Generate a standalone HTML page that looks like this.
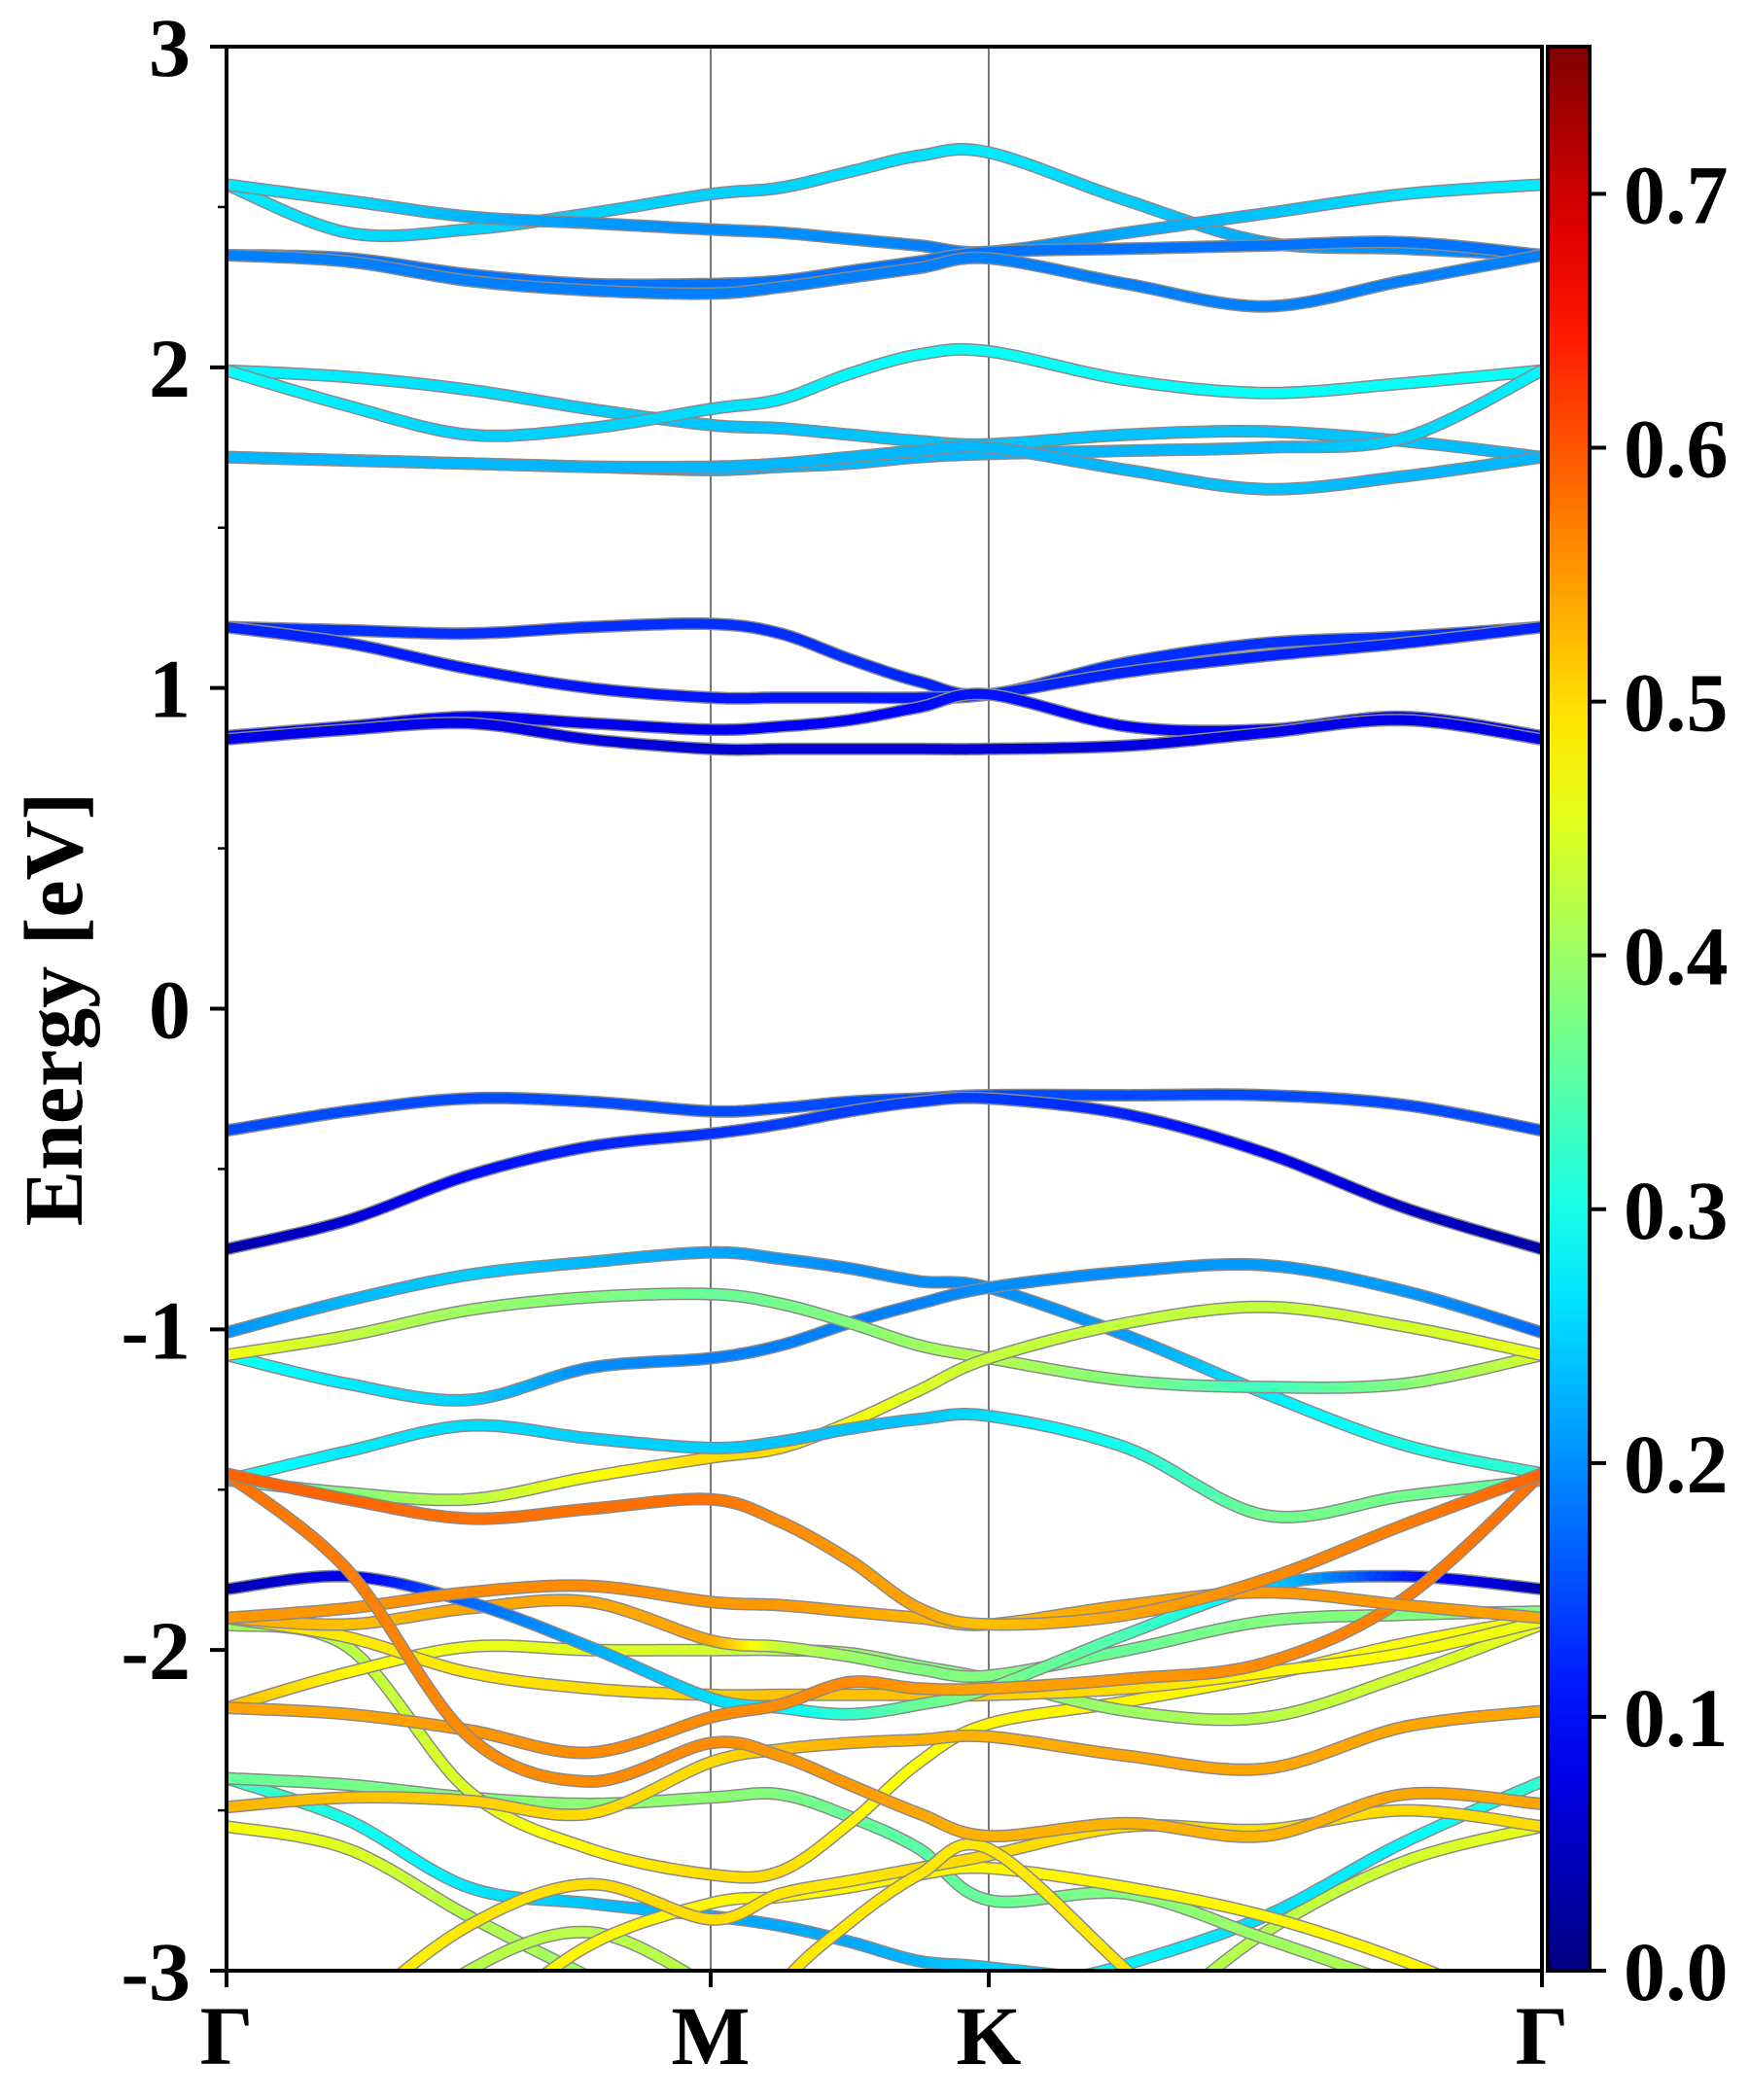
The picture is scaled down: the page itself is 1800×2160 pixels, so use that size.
<!DOCTYPE html>
<html><head><meta charset="utf-8">
<style>
html,body{margin:0;padding:0;background:#fff;width:1800px;height:2160px;overflow:hidden;}
svg{display:block;}
text{font-family:"Liberation Serif",serif;font-weight:bold;fill:#000;}
</style></head>
<body>
<svg id="chart" width="1800" height="2160" viewBox="0 0 1800 2160" xmlns="http://www.w3.org/2000/svg" font-family="Liberation Serif, serif">
<defs>
<clipPath id="plotclip"><rect x="233" y="48" width="1353" height="1979"/></clipPath>
<linearGradient id="jetgrad" x1="0" y1="1" x2="0" y2="0"></linearGradient>
</defs>
<g id="bands" clip-path="url(#plotclip)"></g>
<g id="axes"></g>
<text transform="translate(84,1038) rotate(-90)" text-anchor="middle" font-size="86">Energy [eV]</text>
</svg>
<script>
// ---- data ----
const kPoints = [0,0.25,0.5,0.75,1,1.25,1.5,1.75,2,2.25,2.5,2.75,3];
const kLabels = ["Γ","M","K","Γ"];
const kLabelPos = [0,1,2,3];
const yTicks = [3,2,1,0,-1,-2,-3];
const yTickLabels = ["3","2","1","0","-1","-2","-3"];
const cbTicks = [0.0,0.1,0.2,0.3,0.4,0.5,0.6,0.7];
const cbTickLabels = ["0.0","0.1","0.2","0.3","0.4","0.5","0.6","0.7"];
const vmax = 0.758;

const bandA_E = [2.57,2.42,2.43,2.48,2.54,2.56,2.61,2.66,2.67,2.52,2.39,2.37,2.35];
const bandA_W = [0.27,0.26,0.25,0.25,0.25,0.25,0.26,0.26,0.27,0.25,0.22,0.2,0.19];
const bandB_E = [2.57,2.52,2.47,2.45,2.43,2.42,2.40,2.38,2.36,2.42,2.48,2.54,2.57];
const bandB_W = [0.27,0.26,0.23,0.21,0.2,0.2,0.2,0.19,0.19,0.22,0.24,0.26,0.27];
const bandC_E = [2.35,2.34,2.29,2.26,2.26,2.27,2.30,2.33,2.36,2.37,2.38,2.39,2.35];
const bandC_W = [0.18,0.18,0.18,0.18,0.18,0.18,0.18,0.18,0.18,0.18,0.18,0.18,0.18];
const bandD_E = [2.35,2.33,2.27,2.24,2.23,2.25,2.28,2.31,2.34,2.26,2.19,2.27,2.35];
const bandD_W = [0.19,0.19,0.19,0.19,0.19,0.19,0.19,0.19,0.19,0.19,0.19,0.19,0.19];
const bandE_E = [1.99,1.97,1.93,1.87,1.82,1.81,1.79,1.77,1.76,1.79,1.80,1.77,1.72];
const bandE_W = [0.28,0.27,0.26,0.25,0.24,0.24,0.24,0.24,0.24,0.24,0.24,0.24,0.23];
const bandF_E = [1.99,1.88,1.79,1.81,1.87,1.90,1.98,2.04,2.05,1.96,1.92,1.95,1.99];
const bandF_W = [0.29,0.27,0.25,0.25,0.26,0.27,0.28,0.29,0.29,0.29,0.29,0.29,0.29];
const bandG_E = [1.72,1.71,1.70,1.69,1.68,1.69,1.70,1.72,1.73,1.74,1.75,1.78,1.99];
const bandG_W = [0.23,0.23,0.23,0.23,0.23,0.23,0.23,0.23,0.23,0.23,0.23,0.25,0.28];
const bandH_E = [1.72,1.71,1.70,1.69,1.69,1.70,1.72,1.74,1.75,1.68,1.62,1.66,1.72];
const bandH_W = [0.23,0.23,0.23,0.23,0.23,0.23,0.23,0.23,0.23,0.23,0.24,0.23,0.23];
const bandI_E = [1.19,1.18,1.17,1.19,1.20,1.17,1.09,1.02,0.98,1.08,1.14,1.16,1.19];
const bandI_W = [0.13,0.13,0.13,0.13,0.13,0.13,0.13,0.12,0.12,0.13,0.13,0.13,0.13];
const bandJ_E = [1.19,1.14,1.06,1.00,0.97,0.97,0.97,0.97,0.98,1.05,1.10,1.14,1.19];
const bandJ_W = [0.12,0.12,0.11,0.11,0.11,0.11,0.11,0.11,0.12,0.12,0.12,0.12,0.12];
const bandK_E = [0.85,0.88,0.91,0.89,0.87,0.88,0.90,0.94,0.98,0.88,0.87,0.91,0.85];
const bandK_W = [0.09,0.09,0.09,0.08,0.08,0.09,0.09,0.1,0.11,0.09,0.09,0.09,0.09];
const bandL_E = [0.84,0.87,0.89,0.84,0.81,0.81,0.81,0.81,0.81,0.82,0.86,0.90,0.84];
const bandL_W = [0.08,0.08,0.08,0.07,0.06,0.06,0.06,0.06,0.06,0.07,0.08,0.08,0.08];
const bandV1_E = [-0.38,-0.32,-0.28,-0.29,-0.32,-0.31,-0.29,-0.28,-0.27,-0.27,-0.27,-0.30,-0.38];
const bandV1_W = [0.15,0.15,0.15,0.15,0.15,0.15,0.15,0.15,0.15,0.15,0.15,0.15,0.15];
const bandV2_E = [-0.75,-0.66,-0.52,-0.43,-0.39,-0.36,-0.32,-0.29,-0.28,-0.33,-0.45,-0.62,-0.75];
const bandV2_W = [0.03,0.06,0.1,0.12,0.13,0.14,0.14,0.14,0.14,0.12,0.09,0.05,0.03];
const bandV3_E = [-1.01,-0.91,-0.83,-0.79,-0.76,-0.78,-0.81,-0.85,-0.87,-1.02,-1.20,-1.36,-1.45];
const bandV3_W = [0.2,0.23,0.25,0.23,0.22,0.21,0.2,0.2,0.2,0.21,0.27,0.3,0.32];
const bandP_E = [-1.08,-1.17,-1.22,-1.12,-1.09,-1.05,-0.98,-0.92,-0.87,-0.82,-0.80,-0.88,-1.01];
const bandP_W = [0.3,0.27,0.25,0.2,0.19,0.19,0.19,0.19,0.2,0.2,0.21,0.21,0.17];
const bandQ_E = [-1.08,-1.02,-0.94,-0.90,-0.89,-0.92,-0.98,-1.05,-1.09,-1.16,-1.18,-1.17,-1.08];
const bandQ_W = [0.47,0.43,0.4,0.38,0.36,0.37,0.38,0.4,0.42,0.38,0.33,0.38,0.45];
const bandR_E = [-1.47,-1.51,-1.53,-1.46,-1.40,-1.37,-1.29,-1.19,-1.09,-0.98,-0.93,-0.99,-1.08];
const bandR_W = [0.35,0.38,0.42,0.47,0.5,0.5,0.47,0.45,0.43,0.43,0.43,0.44,0.46];
const bandS_E = [-1.47,-1.38,-1.30,-1.34,-1.37,-1.35,-1.31,-1.28,-1.27,-1.37,-1.58,-1.52,-1.47];
const bandS_W = [0.3,0.27,0.26,0.25,0.25,0.24,0.24,0.24,0.26,0.3,0.37,0.37,0.35];
const bandT_E = [-1.45,-1.53,-1.59,-1.56,-1.53,-1.60,-1.72,-1.87,-1.92,-1.89,-1.78,-1.61,-1.45];
const bandT_W = [0.59,0.59,0.58,0.58,0.58,0.56,0.55,0.54,0.52,0.54,0.56,0.57,0.59];
const bandT2_E = [-1.45,-1.75,-2.27,-2.41,-2.29,-2.33,-2.42,-2.51,-2.58,-2.54,-2.58,-2.45,-2.48];
const bandT2_W = [0.58,0.57,0.56,0.56,0.56,0.55,0.55,0.54,0.53,0.53,0.53,0.54,0.54];
const bandU_E = [-1.81,-1.77,-1.85,-1.99,-2.15,-2.18,-2.20,-2.17,-2.12,-1.95,-1.80,-1.77,-1.81];
const bandU_W = [0.03,0.08,0.17,0.22,0.26,0.28,0.32,0.36,0.38,0.34,0.26,0.12,0.03];
const bandW_E = [-1.90,-1.87,-1.82,-1.80,-1.85,-1.86,-1.88,-1.90,-1.92,-1.86,-1.82,-1.86,-1.90];
const bandW_W = [0.55,0.55,0.56,0.56,0.55,0.55,0.54,0.53,0.52,0.54,0.55,0.55,0.54];
const bandX_E = [-1.90,-1.92,-1.87,-1.85,-1.97,-1.99,-2.02,-2.06,-2.08,-2.00,-1.91,-1.89,-1.88];
const bandX_W = [0.54,0.52,0.54,0.54,0.54,0.43,0.40,0.38,0.38,0.36,0.38,0.38,0.38];
const bandY_E = [-2.18,-2.07,-1.99,-2.00,-2.00,-2.00,-2.01,-2.05,-2.09,-2.19,-2.21,-2.08,-1.92];
const bandY_W = [0.53,0.48,0.46,0.45,0.44,0.42,0.4,0.38,0.38,0.4,0.42,0.44,0.46];
const bandZ_E = [-1.90,-1.96,-2.07,-2.12,-2.14,-2.14,-2.14,-2.14,-2.14,-2.12,-2.07,-2.01,-1.91];
const bandZ_W = [0.5,0.49,0.49,0.5,0.51,0.52,0.52,0.52,0.51,0.5,0.48,0.47,0.46];
const bandAA_E = [-2.18,-2.20,-2.25,-2.32,-2.21,-2.17,-2.10,-2.12,-2.12,-2.09,-2.04,-1.84,-1.45];
const bandAA_W = [0.54,0.54,0.55,0.56,0.56,0.56,0.56,0.55,0.54,0.55,0.56,0.57,0.58];
const bandAC_E = [-1.92,-1.99,-2.44,-2.62,-2.70,-2.69,-2.54,-2.35,-2.23,-2.16,-2.08,-1.98,-1.90];
const bandAC_W = [0.4,0.42,0.45,0.48,0.5,0.5,0.48,0.47,0.48,0.48,0.48,0.47,0.46];
const bandAD_E = [-2.49,-2.46,-2.47,-2.51,-2.35,-2.31,-2.29,-2.28,-2.27,-2.33,-2.37,-2.24,-2.19];
const bandAD_W = [0.53,0.52,0.51,0.5,0.5,0.52,0.53,0.53,0.53,0.54,0.54,0.54,0.54];
const bandAE_E = [-2.40,-2.42,-2.46,-2.48,-2.46,-2.45,-2.52,-2.62,-2.78,-2.76,-2.90,-3.05,-3.2];
const bandAE_W = [0.36,0.37,0.38,0.39,0.39,0.38,0.36,0.35,0.36,0.38,0.4,0.42,0.42];
const bandAF_E = [-2.40,-2.53,-2.74,-2.79,-2.83,-2.86,-2.91,-2.97,-2.99,-3.05,-3.2,-3.3,-3.4];
const bandAF_W = [0.34,0.3,0.27,0.24,0.22,0.22,0.22,0.23,0.25,0.25,0.25,0.25,0.25];
const bandAG_E = [-2.55,-2.62,-2.83,-3.02,-3.2,-3.4,-3.6,-3.8,-4.0,-4.2,-4.4,-4.6,-4.8];
const bandAG_W = [0.47,0.45,0.42,0.4,0.4,0.4,0.4,0.4,0.4,0.4,0.4,0.4,0.4];
const bandAH_E = [-3.5,-3.15,-2.86,-2.73,-2.84,-2.76,-2.72,-2.68,-2.64,-2.55,-2.56,-2.50,-2.55];
const bandAH_W = [0.48,0.48,0.49,0.5,0.5,0.49,0.49,0.5,0.5,0.5,0.5,0.5,0.5];
const bandAJ_E = [-3.6,-3.3,-3.0,-2.88,-3.05,-3.2,-3.4,-3.6,-3.8,-4.0,-4.2,-4.4,-4.6];
const bandAJ_W = [0.42,0.42,0.42,0.42,0.42,0.42,0.42,0.42,0.42,0.42,0.42,0.42,0.42];
const bandAK_E = [-3.8,-3.5,-3.2,-2.92,-2.79,-2.77,-2.74,-2.70,-2.68,-2.74,-2.83,-2.97,-3.15];
const bandAK_W = [0.48,0.48,0.48,0.48,0.48,0.48,0.48,0.48,0.48,0.48,0.48,0.48,0.48];
const bandAL_E = [-4.0,-4.0,-4.0,-4.0,-3.4,-3.05,-2.85,-2.70,-2.62,-3.0,-3.4,-3.6,-3.8];
const bandAL_W = [0.49,0.49,0.49,0.49,0.49,0.49,0.49,0.49,0.49,0.49,0.49,0.49,0.49];
const bandAM_E = [-4.5,-4.4,-4.3,-4.2,-4.0,-3.8,-3.5,-3.3,-3.1,-2.98,-2.83,-2.60,-2.41];
const bandAM_W = [0.3,0.3,0.3,0.3,0.3,0.3,0.3,0.3,0.3,0.28,0.26,0.28,0.32];
const bandAN_E = [-4.6,-4.5,-4.4,-4.3,-4.2,-4.0,-3.8,-3.6,-3.4,-3.2,-2.88,-2.66,-2.55];
const bandAN_W = [0.42,0.42,0.42,0.42,0.42,0.42,0.42,0.42,0.42,0.42,0.42,0.44,0.46];

const bandList = [
 ["A",bandA_E,bandA_W],["B",bandB_E,bandB_W],["C",bandC_E,bandC_W],["D",bandD_E,bandD_W],
 ["E",bandE_E,bandE_W],["F",bandF_E,bandF_W],["G",bandG_E,bandG_W],["H",bandH_E,bandH_W],
 ["I",bandI_E,bandI_W],["J",bandJ_E,bandJ_W],["K",bandK_E,bandK_W],["L",bandL_E,bandL_W],
 ["V1",bandV1_E,bandV1_W],["V2",bandV2_E,bandV2_W],["V3",bandV3_E,bandV3_W],["P",bandP_E,bandP_W],
 ["Q",bandQ_E,bandQ_W],["R",bandR_E,bandR_W],["S",bandS_E,bandS_W],
 ["AG",bandAG_E,bandAG_W],["AJ",bandAJ_E,bandAJ_W],["AN",bandAN_E,bandAN_W],["AM",bandAM_E,bandAM_W],
 ["AF",bandAF_E,bandAF_W],["AE",bandAE_E,bandAE_W],["AK",bandAK_E,bandAK_W],["AH",bandAH_E,bandAH_W],
 ["AL",bandAL_E,bandAL_W],["AC",bandAC_E,bandAC_W],["AD",bandAD_E,bandAD_W],
 ["Y",bandY_E,bandY_W],["Z",bandZ_E,bandZ_W],["X",bandX_E,bandX_W],["U",bandU_E,bandU_W],
 ["AA",bandAA_E,bandAA_W],["W",bandW_E,bandW_W],["T2",bandT2_E,bandT2_W],["T",bandT_E,bandT_W]
];

// ---- axes functions ----
const PL=233, PR=1586, PT=48, PB=2027;
const xM=731, xK=1017;
function xScale(k){
  if(k<=1) return PL+(xM-PL)*k;
  if(k<=2) return xM+(xK-xM)*(k-1);
  return xK+(PR-xK)*(k-2);
}
function yScale(e){ return PT+(3-e)*(PB-PT)/6; }
function cbScale(v){ return PB-(PB-PT)*v/vmax; }
function jet(t){
  t=Math.max(0,Math.min(1,t));
  const c=v=>Math.round(255*Math.max(0,Math.min(1,v)));
  return "rgb("+c(1.5-Math.abs(4*t-3))+","+c(1.5-Math.abs(4*t-2))+","+c(1.5-Math.abs(4*t-1))+")";
}
const NS="http://www.w3.org/2000/svg";
function mk(tag,attrs,parent){
  const e=document.createElementNS(NS,tag);
  for(const a in attrs) e.setAttribute(a,attrs[a]);
  parent.appendChild(e); return e;
}
const gB=document.getElementById("bands");
const gA=document.getElementById("axes");
const YMAXDRAW = PB+60;

[1,2].forEach(k=>{
  const l=mk("line",{x1:xScale(k),x2:xScale(k),y1:PT,y2:PB,stroke:"#777","stroke-width":2},gB);
  
  
});

bandList.forEach(b=>{
  const name=b[0], E=b[1], W=b[2];
  const P=kPoints.map((k,i)=>[xScale(k),yScale(E[i]),W[i]]);
  const pts=[];
  for(let i=0;i<P.length-1;i++){
    const p0=P[Math.max(0,i-1)],p1=P[i],p2=P[i+1],p3=P[Math.min(P.length-1,i+2)];
    const n=16;
    for(let s=0;s<n;s++){
      const t=s/n,t2=t*t,t3=t2*t;
      const f=(a,b,c,d)=>0.5*((2*b)+(-a+c)*t+(2*a-5*b+4*c-d)*t2+(-a+3*b-3*c+d)*t3);
      pts.push([f(p0[0],p1[0],p2[0],p3[0]),f(p0[1],p1[1],p2[1],p3[1]),p1[2]+(p2[2]-p1[2])*t]);
    }
  }
  const last=P[P.length-1]; pts.push([last[0],last[1],last[2]]);
  pts.forEach(p=>{ if(p[1]>YMAXDRAW) p[1]=YMAXDRAW; });
  const g=mk("g",{},gB);
  
  
  const d="M"+pts.map(p=>p[0].toFixed(1)+","+p[1].toFixed(1)).join("L");
  const o=mk("path",{d:d,fill:"none",stroke:"#8a8a8a","stroke-width":13,"stroke-linejoin":"round"},g);
  
  
  for(let i=0;i<pts.length-1;i++){
    const a=pts[i],c=pts[i+1];
    if(a[1]>=YMAXDRAW && c[1]>=YMAXDRAW) continue;
    const s=mk("line",{x1:a[0].toFixed(1),y1:a[1].toFixed(1),x2:c[0].toFixed(1),y2:c[1].toFixed(1),stroke:jet(((a[2]+c[2])/2)/vmax),"stroke-width":10,"stroke-linecap":"round"},g);
    
    
  }
});

const fr=mk("rect",{x:PL,y:PT,width:PR-PL,height:PB-PT,fill:"none",stroke:"#000","stroke-width":4},gA);



yTicks.forEach((v,i)=>{
  const y=yScale(v);
  const t=mk("line",{x1:PL-17,x2:PL,y1:y,y2:y,stroke:"#000","stroke-width":4},gA);
  
  
  const tx=mk("text",{x:196,y:y+30,"text-anchor":"end","font-size":86},gA);
  tx.textContent=yTickLabels[i];
  
  
  if(i<yTicks.length-1){
    const ym=yScale(v-0.5);
    const m=mk("line",{x1:PL-9,x2:PL,y1:ym,y2:ym,stroke:"#000","stroke-width":2.5},gA);
    
    
  }
});
kLabelPos.forEach((k,i)=>{
  const x=xScale(k);
  const t=mk("line",{x1:x,x2:x,y1:PB,y2:PB+17,stroke:"#000","stroke-width":4},gA);
  
  
  const tx=mk("text",{x:x,y:2123,"text-anchor":"middle","font-size":86},gA);
  tx.textContent=kLabels[i];
  
  
});

const grad=document.getElementById("jetgrad");
for(let i=0;i<=20;i++){
  mk("stop",{offset:(i/20),"stop-color":jet(i/20)},grad);
}
const cb=mk("rect",{x:1592,y:PT,width:43,height:PB-PT,fill:"url(#jetgrad)",stroke:"#000","stroke-width":4},gA);


cbTicks.forEach((v,i)=>{
  const y=cbScale(v);
  const t=mk("line",{x1:1635,x2:1652,y1:y,y2:y,stroke:"#000","stroke-width":4},gA);
  
  
  const tx=mk("text",{x:1670,y:y+30,"text-anchor":"start","font-size":86},gA);
  tx.textContent=cbTickLabels[i];
  
  
});
</script>
</body></html>
